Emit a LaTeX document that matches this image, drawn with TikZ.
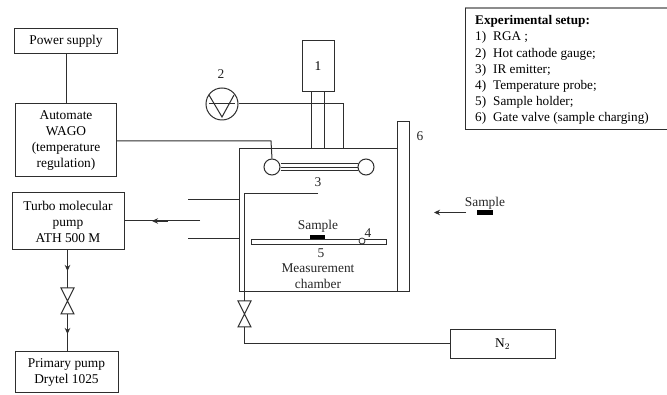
\documentclass[tikz,border=0pt]{standalone}
\usepackage{fontspec}
\setmainfont{Liberation Serif}
\usepackage{tikz}
\usetikzlibrary{positioning,arrows.meta,calc}
\definecolor{lineGray}{HTML}{2E2E2E}
\tikzset{
  boxnode/.style={draw=lineGray, line width=1pt, align=center, inner sep=0pt, font=\fontsize{13.4}{16}\selectfont},
  pipe/.style={draw=lineGray, line width=1pt},
  flowtip/.style={-{Stealth[length=6pt,width=5.5pt]}},
  labeltext/.style={inner sep=0pt, font=\fontsize{13.4}{16}\selectfont, text=black!85},
}
\begin{document}
\begin{tikzpicture}[x=1pt, y=-1pt]
  \useasboundingbox (0,0) rectangle (667,395);
  \fill[white] (0,0) rectangle (667,395);

  % Boxes on the left
  \node[boxnode, minimum width=103pt, minimum height=25pt] (power) at (66,41) {Power supply};
  \node[boxnode, minimum width=101pt, minimum height=73pt] (wago) at (66,140.5) {Automate\\WAGO\\(temperature\\regulation)};
  \node[boxnode, minimum width=112pt, minimum height=57pt] (turbo) at (68,221.5) {Turbo molecular\\pump\\ATH 500 M};
  \node[boxnode, minimum width=103pt, minimum height=41pt] (primary) at (66.5,372.5) {Primary pump\\Drytel 1025};
  \draw[pipe] (power) -- (wago);

  % Pump line with its valve
  \coordinate (pvalvetop) at (67.5,288);
  \coordinate (pvalvebot) at (67.5,314);
  \draw[pipe] (61,288) -- (74,288) -- (61,314) -- (74,314) -- cycle;
  \draw[pipe, line width=1.3pt, flowtip] (turbo.south -| pvalvetop) -- (67.5,271);
  \draw[pipe, line width=1.3pt] (67.5,268) -- (pvalvetop);
  \draw[pipe, line width=1.3pt, flowtip] (pvalvebot) -- (67.5,334);
  \draw[pipe, line width=1.3pt] (67.5,331) -- (primary.north -| pvalvebot);

  % Chamber and gate valve
  \node[draw=lineGray, line width=1pt, minimum width=158pt, minimum height=143pt, inner sep=0pt] (chamber) at (318,220.5) {};
  \node[draw=lineGray, line width=1pt, minimum width=12pt, minimum height=170pt, inner sep=0pt] (gate) at (403,207) {};
  \node[labeltext] (lab6) at (420,136) {6};
  \node[labeltext, align=center] (meas) at (318,276) {Measurement\\chamber};

  % RGA
  \node[boxnode, minimum width=32pt, minimum height=51pt] (rga) at (318,66.5) {1};
  \coordinate (tubea) at (311,92);
  \coordinate (tubeb) at (324,92);
  \draw[pipe] (tubea) -- (tubea |- chamber.north);
  \draw[pipe] (tubeb) -- (tubeb |- chamber.north);

  % Gauge
  \node[draw=lineGray, line width=1pt, circle, minimum size=32pt, inner sep=0pt] (gauge) at (222,104) {};
  \node[labeltext] (lab2) at (221,74) {2};
  \draw[pipe] (209,103.5) -- (235,103.5);
  \draw[pipe] (209,95) -- (222,117) -- (234,95);
  \coordinate (gaugecorner) at (343,104);
  \draw[pipe] (gauge.east) -- (gaugecorner) -- (gaugecorner |- chamber.north);

  % IR emitter
  \node[draw=lineGray, line width=1pt, circle, minimum size=16pt, inner sep=0pt, fill=white] (irleft) at (272,167) {};
  \node[draw=lineGray, line width=1pt, circle, minimum size=16pt, inner sep=0pt, fill=white] (irright) at (366,167) {};
  \draw[pipe] (irleft.east |- 0,164) -- (irright.west |- 0,164);
  \draw[pipe] (irleft.east |- 0,167.5) -- (irright.west |- 0,167.5);
  \draw[pipe] (irleft.east |- 0,171) -- (irright.west |- 0,171);
  \node[labeltext] (lab3) at (318,182) {3};
  \coordinate (wagocorner) at (271,141);
  \draw[pipe] (wago.east |- wagocorner) -- (wagocorner) -- (irleft.north);

  % Ports on the left wall
  \coordinate (portup) at (188,200);
  \coordinate (portdown) at (188,239);
  \draw[pipe] (portup) -- (portup -| chamber.west);
  \draw[pipe] (portdown) -- (portdown -| chamber.west);
  \coordinate (portmid) at (200,221);
  \draw[pipe] (portmid) -- (turbo.east |- portmid);
  \draw[pipe, line width=1.3pt, flowtip] (168,221) -- (152,221);

  % Nitrogen line
  \coordinate (inlet) at (318,194);
  \coordinate (nvalvetop) at (244.5,301);
  \coordinate (nvalvebot) at (244.5,327);
  \node[boxnode, minimum width=105pt, minimum height=29pt] (nitrogen) at (502.5,344.5) {N$_2$};
  \draw[pipe] (inlet) -- (244.5,194) -- (nvalvetop);
  \draw[pipe] (238,301) -- (251,301) -- (238,327) -- (251,327) -- cycle;
  \draw[pipe] (nvalvebot) -- (244.5,344) -- (nitrogen.west |- 0,344);

  % Sample holder
  \node[draw=lineGray, line width=0.8pt, minimum width=135pt, minimum height=5pt, inner sep=0pt] (holder) at (318.5,241.5) {};
  \node[fill=black, minimum width=15pt, minimum height=4pt, inner sep=0pt] (sampleblock) at (317.5,237) {};
  \node[labeltext] (samplelabel) at (318,226) {Sample};
  \node[draw=lineGray, line width=0.8pt, circle, minimum size=6pt, inner sep=0pt, fill=white] (probe) at (362,241) {};
  \node[labeltext] (lab4) at (368,233) {4};
  \node[labeltext] (lab5) at (321,253) {5};

  % Sample outside
  \node[labeltext] (outlabel) at (485,203) {Sample};
  \node[fill=black, minimum width=16pt, minimum height=4.5pt, inner sep=0pt] (outblock) at (485,212.5) {};
  \coordinate (outstart) at (466,212.5);
  \coordinate (outend) at (434,212.5);
  \draw[pipe, line width=1.4pt, flowtip] (outstart) -- (outend);

  % Legend
  \node[anchor=north west, align=left, inner sep=0pt, font=\fontsize{13.2}{16.1}\selectfont] (legend) at (475,15.5) {%
    \textbf{Experimental setup:}\\
    1)\hspace{7pt}RGA ;\\
    2)\hspace{7pt}Hot cathode gauge;\\
    3)\hspace{7pt}IR emitter;\\
    4)\hspace{7pt}Temperature probe;\\
    5)\hspace{7pt}Sample holder;\\
    6)\hspace{7pt}Gate valve (sample charging)};
  \draw[draw=black!45, line width=1.5pt] (667,8) -- (465,8);
  \draw[pipe] (465,8) -- (465,130) -- (667,130);
\end{tikzpicture}
\end{document}
